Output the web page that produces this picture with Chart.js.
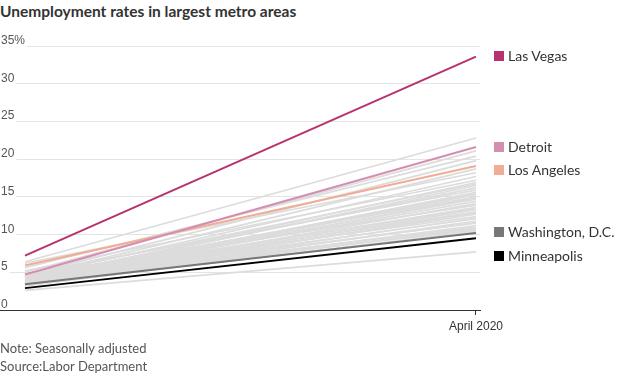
<!DOCTYPE html>
<html><head><meta charset="utf-8">
<script src="https://cdn.jsdelivr.net/npm/chart.js@4.4.0/dist/chart.umd.min.js"></script>
<style>
body{margin:0;background:#fff;width:620px;height:375px;overflow:hidden;position:relative;font-family:Lato,sans-serif}
#title{position:absolute;left:0;top:2px;font-weight:bold;font-size:15.5px;line-height:18px;color:#333;white-space:nowrap}
#c{position:absolute;left:0;top:0}
.leg{position:absolute;left:494px;height:16px;font-size:14px;line-height:16px;color:#333;white-space:nowrap}
.leg i{position:absolute;left:0;top:3px;width:10px;height:10px}
.leg b{position:absolute;left:14px;top:0;font-weight:normal}
.foot{position:absolute;left:0;font-size:13px;line-height:15px;color:#555;white-space:nowrap}
</style></head>
<body>
<div id="title">Unemployment rates in largest metro areas</div>
<canvas id="c" width="620" height="375"></canvas>
<div id="legend"></div>
<div class="foot" style="top:341px">Note: Seasonally adjusted</div>
<div class="foot" style="top:359px">Source:Labor Department</div>
<script>
// ---- data ----
const periods = ['March 2020', 'April 2020'];
const highlightNames  = ['Las Vegas', 'Detroit', 'Los Angeles', 'Washington, D.C.', 'Minneapolis'];
const highlightMarch  = [7.2, 4.7, 5.9, 3.4, 2.9];
const highlightApril  = [33.6, 21.6, 19.1, 10.2, 9.5];
const highlightColors = ['#b8326f', '#d48fb0', '#f2ab95', '#777777', '#000000'];
const legendY         = [56, 147, 170, 232, 256];
const otherMarch = [6.4,5.0,5.6,4.6,4.4,6.2,4.3,5.2,4.0,4.5,3.9,4.2,4.8,3.8,4.1,3.7,4.4,3.6,4.0,3.9,3.5,4.6,3.8,4.2,3.6,4.0,3.4,3.7,4.3,3.5,3.9,3.3,3.6,4.1,3.4,3.8,3.2,3.5,3.9,3.3,2.6];
const otherApril = [22.8,21.1,20.4,19.8,18.7,18.2,17.7,17.2,16.9,16.7,16.5,16.2,15.9,15.6,15.4,15.3,15.0,14.9,14.7,14.4,14.1,13.9,13.6,13.4,13.3,13.0,12.9,12.7,12.4,12.2,12.1,11.8,11.6,11.5,11.2,11.0,10.9,10.8,10.6,10.4,7.7];
const yTicks = [0,5,10,15,20,25,30,35];

// ---- build ----
const datasets = [];
otherMarch.forEach((m, i) => {
  datasets.push({data:[{x:0,y:m},{x:1,y:otherApril[i]}], borderColor:'#dcdcdc', borderWidth:1.7, pointRadius:0, order:2});
});
highlightNames.forEach((n, i) => {
  datasets.push({label:n, data:[{x:0,y:highlightMarch[i]},{x:1,y:highlightApril[i]}], borderColor:highlightColors[i], borderWidth:2, pointRadius:0, order:1});
});

const leg = document.getElementById('legend');
highlightNames.forEach((n, i) => {
  const d = document.createElement('div');
  d.className = 'leg';
  d.style.top = (legendY[i] - 8) + 'px';
  d.innerHTML = '<i style="background:' + highlightColors[i] + '"></i><b>' + n + '</b>';
  leg.appendChild(d);
});

const yLabels = {
  id: 'yLabels',
  afterDraw(chart) {
    const ctx = chart.ctx, s = chart.scales.y;
    ctx.save();
    ctx.font = '12px "Liberation Sans Narrow", "Liberation Sans", sans-serif';
    ctx.textBaseline = 'alphabetic';
    ctx.textAlign = 'left';
    yTicks.forEach(v => {
      const y = Math.round(s.getPixelForValue(v));
      const t = v === 35 ? '35%' : String(v);
      const w = ctx.measureText(t).width;
      if (v !== 0) { ctx.fillStyle = '#fff'; ctx.fillRect(0, y - 14, w + 3, 15.5); }
      ctx.fillStyle = '#555';
      ctx.fillText(t, 1, y - 2);
    });
    ctx.restore();
  }
};

new Chart(document.getElementById('c'), {
  type: 'line',
  data: { datasets },
  options: {
    responsive: false, animation: false,
    layout: { padding: { left: 0, right: 140, top: 46, bottom: 42 } },
    plugins: { legend: { display: false }, tooltip: { enabled: false } },
    scales: {
      x: {
        type: 'linear', min: -0.0554, max: 1.0089,
        afterBuildTicks: s => { s.ticks = [{ value: 1 }]; },
        afterFit: s => { s.height = 23; },
        ticks: { callback: v => v === 1 ? periods[1] : '', color: '#333', padding: 4, maxRotation: 0,
                 font: { family: '"Liberation Sans Narrow", "Liberation Sans", sans-serif', size: 12 } },
        grid: { drawOnChartArea: false, drawTicks: true, tickLength: 5, color: '#333' },
        border: { display: true, color: '#333', width: 1 }
      },
      y: {
        min: 0, max: 35,
        afterBuildTicks: s => { s.ticks = yTicks.map(v => ({ value: v })); },
        afterFit: s => { s.width = 0; },
        ticks: { display: false },
        grid: { color: '#e4e4e4', drawTicks: false, lineWidth: 1 },
        border: { display: false }
      }
    }
  },
  plugins: [yLabels]
});
</script>
</body></html>
